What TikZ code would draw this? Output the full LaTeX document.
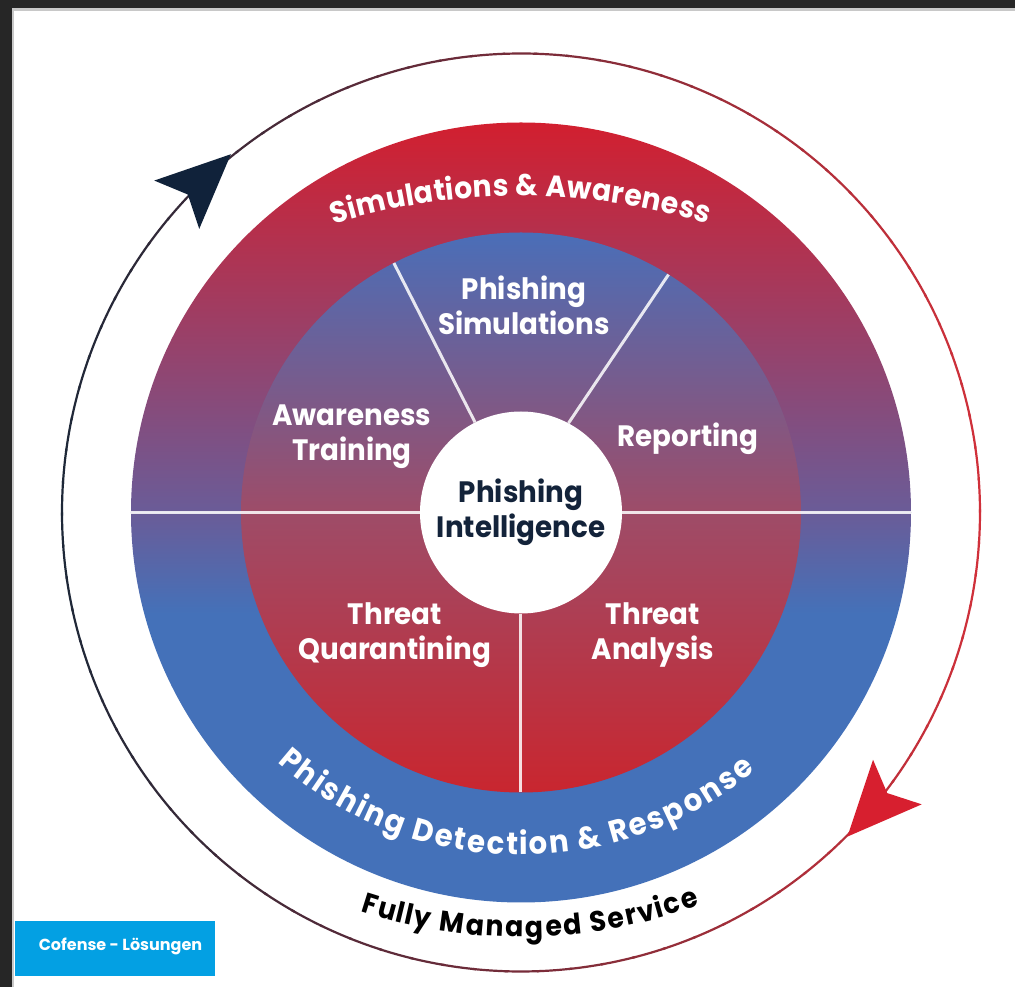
\documentclass[tikz,border=0pt]{standalone}
\usepackage{fontspec}
\setmainfont{Poppins}
\newfontfamily\popn{Poppins}[FakeStretch=0.94]
\usetikzlibrary{decorations.text}
\definecolor{ringred}{HTML}{D21F2F}
\definecolor{ringpurp}{HTML}{6A5C98}
\definecolor{inblue}{HTML}{4A6EB8}
\definecolor{inmauve}{HTML}{9E4C68}
\definecolor{lowblue}{HTML}{4471B9}
\definecolor{lowred}{HTML}{C9262F}
\definecolor{navyc}{HTML}{1E2838}
\definecolor{redc}{HTML}{D0303A}
\definecolor{arrnavy}{HTML}{10223A}
\definecolor{arrred}{HTML}{D71F2F}
\definecolor{ctext}{HTML}{13233A}
\definecolor{btnblue}{HTML}{03A0E3}
\definecolor{framedark}{HTML}{262626}
\definecolor{framegray}{HTML}{C8C8C8}
\pgfdeclareverticalshading{topring}{100bp}{color(0bp)=(ringpurp); color(25bp)=(ringpurp); color(75bp)=(ringred); color(100bp)=(ringred)}
\pgfdeclareverticalshading{topinner}{100bp}{color(0bp)=(inmauve); color(25bp)=(inmauve); color(75bp)=(inblue); color(100bp)=(inblue)}
\pgfdeclareverticalshading{lowring}{100bp}{color(0bp)=(lowblue); color(25bp)=(lowblue); color(62bp)=(lowblue); color(75bp)=(ringpurp); color(100bp)=(ringpurp)}
\pgfdeclareverticalshading{lowinner}{100bp}{color(0bp)=(lowred); color(25bp)=(lowred); color(75bp)=(inmauve); color(100bp)=(inmauve)}
\newcommand\topfont{\popn\bfseries\fontsize{30}{30}\selectfont}
\newcommand\lowfont{\popn\bfseries\fontsize{31}{31}\selectfont}
\newcommand\fullyfont{\popn\bfseries\fontsize{28.5}{28.5}\selectfont}
\begin{document}
\begin{tikzpicture}[x=1pt,y=1pt,
  lbl/.style={font=\popn\bfseries\fontsize{29.5}{35}\selectfont, text=white, align=center, inner sep=0pt},
  sepline/.style={draw=white, line width=3pt, opacity=0.85},
  curvetext/.style n args={2}{decorate, decoration={text effects along path,
     text={#1}, text effects/.cd, text along path, fit text to path,
     characters={text=#2, inner sep=0pt}}}]
\useasboundingbox (-521,-474.5) rectangle (494,512.5);
\fill[white] (-521,-474.5) rectangle (494,512.5);
% screenshot frame
\fill[framedark] (-521,504.2) rectangle (494,512.5);
\fill[framedark] (-521,-474.5) rectangle (-509.3,512.5);
\draw[framegray, line width=2.3pt] (-508.15,-474.5) -- (-508.15,503.05) -- (494,503.05);
% outer ring halves
\shade[shading=topring] (390,0) arc[start angle=0, end angle=180, radius=390] -- cycle;
\shade[shading=lowring] (-390,0) arc[start angle=180, end angle=360, radius=390] -- cycle;
% inner disk halves
\shade[shading=topinner] (280,0) arc[start angle=0, end angle=180, radius=280] -- cycle;
\shade[shading=lowinner] (-280,0) arc[start angle=180, end angle=360, radius=280] -- cycle;
% horizontal divider
\draw[sepline] (-390,0) -- (390,0);
% central circle
\node[circle, fill=white, minimum size=202pt, inner sep=0pt,
      font=\popn\bfseries\fontsize{29.5}{35}\selectfont, text=ctext, align=center] (core) at (0,0) {Phishing\\Intelligence};
% sector dividers
\draw[sepline] (core.117) -- (117:280);
\draw[sepline] (core.62) -- (58.2:280);
\draw[sepline] (core.south) -- (0,-280);
% sector labels
\node[lbl] (simtxt) at (3,207.5) {Phishing\\Simulations};
\node[lbl] (awtxt) at (-169,75.5) {Awareness\\Training};
\node[lbl] (reptxt) at (167,73.5) {Reporting};
\node[lbl] (quartxt) at (-126,-122.5) {Threat\\Quarantining};
\node[lbl] (anatxt) at (132,-122.5) {Threat\\Analysis};
% curved ring titles
{\topfont
\path[curvetext={Simulations {\&} Awareness}{white}]
   ([shift={(107.1:639)}]0,-322.5) arc[start angle=107.1, end angle=73.0, radius=639];
}
{\lowfont
\path[curvetext={Phishing Detection {\&} Response}{white}]
   ([shift={(228.5:368)}]0,25.5) arc[start angle=228.5, end angle=309.5, radius=368];
}
{\fullyfont
\path[curvetext={Fully Managed Service}{black}]
   ([shift={(251.8:515)}]0,90.5) arc[start angle=251.8, end angle=290.3, radius=515];
}
% outer cycle line, colour running from navy (left) to red (right)
\foreach \a in {0,4,...,356}{
  \pgfmathsetmacro\p{50+50*cos(\a+2)}
  \draw[line width=2.2pt, color=redc!\p!navyc] (\a:459) arc[start angle=\a, end angle=\a+4.4, radius=459];
}
% arrowheads
\begin{scope}[shift={(129:461)}, rotate=43]
  \fill[arrnavy] (0,0) -- (-74,33) -- (-59,0) -- (-74,-33) -- cycle;
\end{scope}
\begin{scope}[shift={(-44.8:460)}, rotate=227.5]
  \fill[arrred] (0,0) -- (-74,33) -- (-59,0) -- (-74,-33) -- cycle;
\end{scope}
% button
\node[fill=btnblue, minimum width=200pt, minimum height=55pt, inner sep=0pt] (btn) at (-406,-436) {};
\node[font=\bfseries\fontsize{16}{16}\selectfont, text=white, inner sep=0pt] (btntext) at (-400.5,-433.5) {Cofense - Lösungen};
\end{tikzpicture}
\end{document}
